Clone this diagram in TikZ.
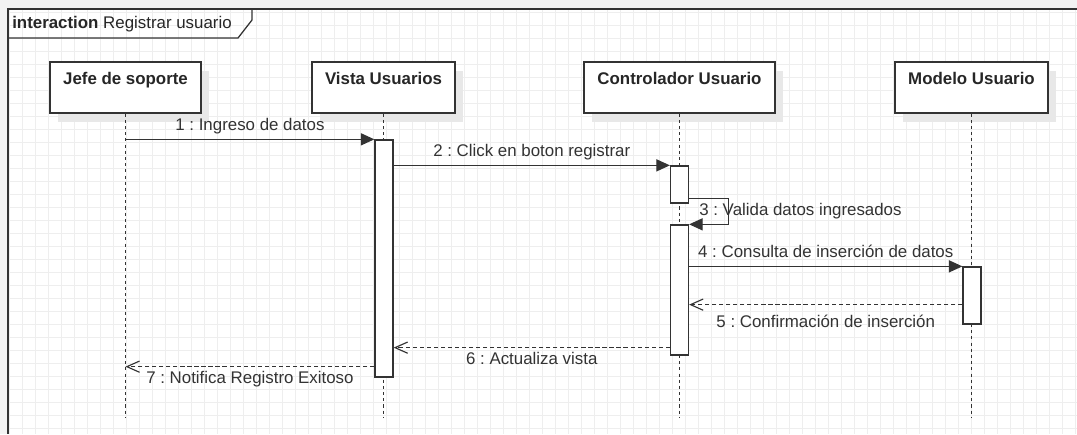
\documentclass[tikz,border=0pt]{standalone}
\usepackage{fontspec}
\setmainfont{Liberation Sans}
\usetikzlibrary{arrows.meta,shadows}
\frenchspacing

\definecolor{umlline}{HTML}{333333}
\definecolor{umltext}{HTML}{333333}
\definecolor{canvasbg}{HTML}{F3F3F3}
\definecolor{gridgray}{HTML}{EEEEEE}
\definecolor{headshadow}{HTML}{E8E8E8}

\tikzset{
  headbox/.style={draw=umlline, line width=0.9pt, fill=white, rectangle, minimum height=1.275cm,
    drop shadow={shadow xshift=5.9pt, shadow yshift=-6.6pt, fill=headshadow, opacity=1}},
  headtitle/.style={font=\fontsize{12pt}{14pt}\selectfont\bfseries, text=black!85, anchor=base, inner sep=0pt},
  actbar/.style={draw=umlline, line width=0.9pt, fill=white, rectangle, minimum width=0.45cm, inner sep=0pt},
  lifeline/.style={draw=umlline, line width=0.8pt, dash pattern=on 2.2pt off 2.2pt},
  call/.style={draw=umlline, line width=0.85pt, -{Triangle[length=9.6pt,width=8.6pt]}},
  reply/.style={draw=umlline, line width=0.8pt, dash pattern=on 3pt off 2pt,
    -{Straight Barb[length=9pt,width=8pt,line width=0.8pt]}},
  msglabel/.style={font=\fontsize{12pt}{14pt}\selectfont, text=umltext, inner sep=0pt, anchor=base},
  gridline/.style={draw=gridgray, line width=0.5pt},
}

\begin{document}
\begin{tikzpicture}[x=0.025cm, y=-0.025cm]
\useasboundingbox (0,0) rectangle (1077,434);

%Canvas
\fill[canvasbg] (0,0) rectangle (1077,434);
\fill[white] (8,9) rectangle (1077,434);
\foreach \gx in {9.7,22.7,...,1077} \draw[gridline] (\gx,9) -- (\gx,434);
\foreach \gy in {12.7,25.7,...,434} \draw[gridline] (8,\gy) -- (1077,\gy);

%Frame
\draw[umlline, line width=0.9pt] (1077,9) -- (8,9) -- (8,434);
\draw[umlline, line width=0.9pt] (8,38) -- (238,38) -- (252,20) -- (252,9);
\node[msglabel, anchor=base west, text=black!85] (frametitle) at (12,28){\textbf{interaction} Registrar usuario};

%Jefe de soporte
\node[headbox, minimum width=3.775cm] (jefe) at (125.5,87.5){};
\node[headtitle] (jefetitle) at (125.5,84){Jefe de soporte};

%Vista Usuarios
\node[headbox, minimum width=3.575cm] (vista) at (383.5,87.5){};
\node[headtitle] (vistatitle) at (383.5,84){Vista Usuarios};

%Controlador Usuario
\node[headbox, minimum width=4.775cm] (ctrl) at (679.5,87.5){};
\node[headtitle] (ctrltitle) at (679.5,84){Controlador Usuario};

%Modelo Usuario
\node[headbox, minimum width=3.825cm] (modelo) at (971.5,87.5){};
\node[headtitle] (modelotitle) at (971.5,84){Modelo Usuario};

%Lifelines
\coordinate (jefeend) at (125.5,417);
\coordinate (vistaend) at (383.5,417);
\coordinate (ctrlend) at (679.5,417);
\coordinate (modeloend) at (971.5,417);
\draw[lifeline] (jefe.south) -- (jefeend);
\draw[lifeline] (vista.south) -- (vistaend);
\draw[lifeline] (ctrl.south) -- (ctrlend);
\draw[lifeline] (modelo.south) -- (modeloend);

%Activation bars
\node[actbar, minimum height=5.925cm] (vistabar) at (384,258.5){};
\node[actbar, minimum height=0.925cm] (ctrlbarA) at (679.5,184.5){};
\node[actbar, minimum height=3.25cm] (ctrlbarB) at (679.5,290){};
\node[actbar, minimum height=1.425cm] (modelobar) at (972,295.5){};

%%%%%%%%%%%%%%%%%Messages%%%%%%%%%%%%%%
\draw[call] (vistabar.north west -| jefe.south) -- (vistabar.north west) node [msglabel, midway, yshift=6pt] (m1) {1 : Ingreso de datos};
\draw[call] (ctrlbarA.north west -| vistabar.east) -- (ctrlbarA.north west) node [msglabel, midway, yshift=6.2pt] (m2) {2 : Click en boton registrar};
\draw[call] ([yshift=3.6pt]ctrlbarA.south east) -- ++(39,0) |- (ctrlbarB.north east);
\node[msglabel, anchor=base west] (m3) at (699,215){3 : Valida datos ingresados};
\draw[call] (ctrlbarB.east |- modelobar.north) -- (modelobar.north west) node [msglabel, midway, yshift=6.2pt] (m4) {4 : Consulta de inserción de datos};

%Replies
\draw[reply] (modelobar.south west) ++(0,-20) coordinate (r5) -- (r5 -| ctrlbarB.east) node [msglabel, midway, yshift=-16.4pt] (m5) {5 : Confirmación de inserción};
\draw[reply] (ctrlbarB.south west) ++(0,-8) coordinate (r6) -- (r6 -| vistabar.east) node [msglabel, midway, yshift=-12.1pt] (m6) {6 : Actualiza vista};
\draw[reply] (vistabar.south west) ++(0,-11) coordinate (r7) -- (r7 -| jefe.south) node [msglabel, midway, yshift=-12.1pt] (m7) {7 : Notifica Registro Exitoso};

\end{tikzpicture}
\end{document}
